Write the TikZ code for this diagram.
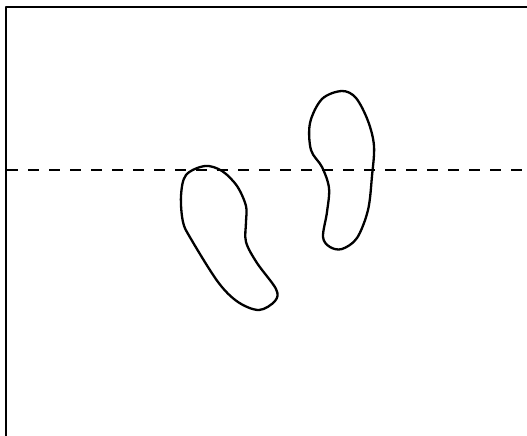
\documentclass[tikz,border=0pt]{standalone}
\begin{document}
\begin{tikzpicture}[x=1pt,y=-1pt,line width=2.3pt,
  outline/.style={draw=black,line width=2.3pt,line join=round},
  midline/.style={draw=black,line width=2.3pt,dash pattern=on 11pt off 10pt}]
\useasboundingbox (0,0) rectangle (527,436);
% frame
\draw[outline] (6,436) -- (6,7) -- (527,7);
% dashed line
\draw[midline] (7,170) -- (527,170);
% left foot
\draw[outline] plot[smooth cycle,tension=0.55] coordinates {
  (205,166) (186,175) (181,196) (183,222) (191,239) (218,282)
  (238,302) (259,310) (275,301) (276,289) (257,263) (246,242)
  (246,222) (246,206) (237,186) (222,171)};
% right foot
\draw[outline] plot[smooth cycle,tension=0.55] coordinates {
  (342,91) (322,99) (310,123) (311,150) (322,167) (329,188)
  (327,212) (323,237) (330,247) (342,249) (357,238) (368,210)
  (372,176) (374,146) (368,121) (356,98)};
\end{tikzpicture}
\end{document}
